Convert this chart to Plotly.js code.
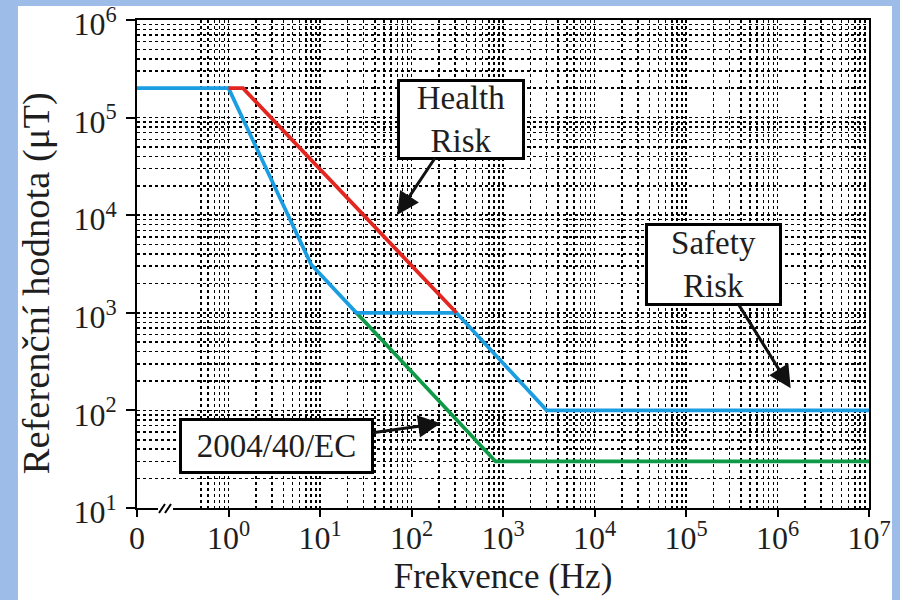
<!DOCTYPE html>
<html>
<head>
<meta charset="utf-8">
<script src="https://cdn.plot.ly/plotly-3.0.1.min.js"></script>
<style>html,body{margin:0;padding:0;background:#9dbde8;}#chart{width:900px;height:600px;}</style>
</head>
<body>
<div id="chart"></div>
<script>
// ---- data (frequency in Hz, reference value in µT) ----
const blueFreq  = [0.1, 1, 8, 25, 310, 3000, 1e7];
const blueVal   = [2e5, 2e5, 3125, 1000, 1000, 100, 100];
const redFreq   = [1, 1.44, 310];
const redVal    = [2e5, 2e5, 1000];
const greenFreq = [25, 830, 1e7];
const greenVal  = [1000, 30, 30];

const xTickVals = [0.1, 1, 10, 100, 1000, 1e4, 1e5, 1e6, 1e7];
const xTickText = ['0', '10<sup>0</sup>', '10<sup>1</sup>', '10<sup>2</sup>', '10<sup>3</sup>',
                   '10<sup>4</sup>', '10<sup>5</sup>', '10<sup>6</sup>', '10<sup>7</sup>'];
const yTickVals = [10, 100, 1000, 1e4, 1e5, 1e6];
const yTickText = ['10<sup>1</sup>', '10<sup>2</sup>', '10<sup>3</sup>', '10<sup>4</sup>',
                   '10<sup>5</sup>', '10<sup>6</sup>'];

const xTitle = 'Frekvence (Hz)';
const yTitle = 'Referenční hodnota (μT)';
const labelHealth = 'Health<br>Risk';
const labelSafety = 'Safety<br>Risk';
const labelEC = '2004/40/EC';

// minor grid positions on x (first decade only from 0.5)
const xMinor = [];
for (let d = -1; d <= 6; d++) {
  for (let k = (d === -1 ? 5 : 2); k <= 9; k++) xMinor.push(k * Math.pow(10, d));
}

const FONT = 'Liberation Serif, Times New Roman, serif';
const TXT = '#1e1e1e';

const traces = [
  {x: greenFreq, y: greenVal, mode: 'lines', line: {color: '#0e9a47', width: 3.8}, hoverinfo: 'x+y'},
  {x: blueFreq, y: blueVal, mode: 'lines', line: {color: '#1b9de2', width: 3.8}, hoverinfo: 'x+y'},
  {x: redFreq, y: redVal, mode: 'lines', line: {color: '#e3261f', width: 3.8}, hoverinfo: 'x+y'}
];

const gridStyle = {gridcolor: '#000', gridwidth: 1.5, griddash: 'dot'};

const annBase = {
  xref: 'x', yref: 'y', showarrow: true, arrowhead: 2, arrowsize: 1.5, arrowwidth: 3,
  arrowcolor: '#111', font: {family: FONT, size: 33, color: TXT}, bgcolor: '#fff',
  bordercolor: '#000', borderwidth: 3, borderpad: 0
};

const layout = {
  width: 900, height: 600,
  margin: {l: 137, r: 31, t: 20, b: 92},
  paper_bgcolor: '#9dbde8',
  plot_bgcolor: '#ffffff',
  showlegend: false,
  font: {family: FONT, color: TXT},
  xaxis: {
    type: 'log', range: [-1, 7],
    tickmode: 'array', tickvals: xTickVals, ticktext: xTickText,
    tickfont: {family: FONT, size: 32, color: TXT},
    ticks: 'outside', ticklen: 7, tickwidth: 2, tickcolor: '#000',
    showline: true, linecolor: '#000', linewidth: 2, mirror: true,
    showgrid: true, ...gridStyle,
    minor: {tickmode: 'array', tickvals: xMinor, showgrid: true, ticks: '', ...gridStyle},
    ticklabelstandoff: -6, ticklabeloverflow: 'allow',
    title: {text: xTitle, font: {family: FONT, size: 35, color: TXT}, standoff: 8}
  },
  yaxis: {
    type: 'log', range: [1, 6],
    tickmode: 'array', tickvals: yTickVals, ticktext: yTickText,
    tickfont: {family: FONT, size: 32, color: TXT},
    ticks: 'outside', ticklen: 9, tickwidth: 2, tickcolor: '#000',
    showline: true, linecolor: '#000', linewidth: 2, mirror: true,
    showgrid: true, ...gridStyle,
    minor: {dtick: 'D1', showgrid: true, ticks: '', ...gridStyle},
    ticklabelstandoff: 3, ticklabelshift: 4, ticklabeloverflow: 'allow'
  },
  shapes: [
    // white panel behind the chart
    {type: 'rect', xref: 'paper', yref: 'paper', layer: 'below',
     x0: -0.1626, x1: 1.0314, y0: -0.3, y1: 1.0287,
     fillcolor: '#ffffff', line: {width: 0}},
    // axis break on the x axis line
    {type: 'rect', xref: 'paper', yref: 'paper', layer: 'above',
     xsizemode: 'pixel', ysizemode: 'pixel', xanchor: 0, yanchor: 0,
     x0: 21, x1: 36, y0: -2, y1: 2, fillcolor: '#ffffff', line: {width: 0}},
    {type: 'line', xref: 'paper', yref: 'paper', layer: 'above',
     xsizemode: 'pixel', ysizemode: 'pixel', xanchor: 0, yanchor: 0,
     x0: 22, x1: 28, y0: -5, y1: 4, line: {color: '#000', width: 2}},
    {type: 'line', xref: 'paper', yref: 'paper', layer: 'above',
     xsizemode: 'pixel', ysizemode: 'pixel', xanchor: 0, yanchor: 0,
     x0: 28, x1: 34, y0: -5, y1: 4, line: {color: '#000', width: 2}}
  ],
  annotations: [
    {text: yTitle, xref: 'paper', yref: 'paper', x: -0.137, y: 0.46,
     xanchor: 'center', yanchor: 'middle', textangle: -90, showarrow: false,
     font: {family: FONT, size: 38.5, color: TXT}},
    {...annBase, text: labelHealth, x: 1.842, y: 4.002, ax: 64, ay: -96, width: 122, height: 75},
    {...annBase, text: labelSafety, x: 6.144, y: 2.226, ax: -77, ay: -124, width: 131, height: 77},
    {...annBase, text: labelEC, x: 2.319, y: 1.868, ax: -164, ay: 23, width: 189, height: 50}
  ]
};

Plotly.newPlot('chart', traces, layout, {displayModeBar: false, staticPlot: true});
</script>
</body>
</html>
